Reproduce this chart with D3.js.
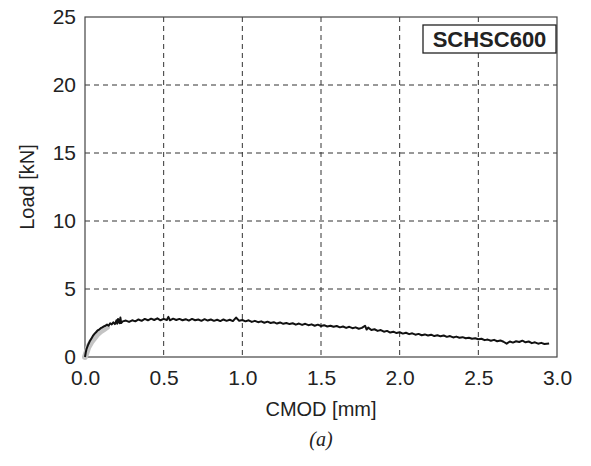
<!DOCTYPE html>
<html><head><meta charset="utf-8">
<script src="https://cdn.jsdelivr.net/npm/d3@7"></script>
<style>body{margin:0;background:#fff}</style>
</head><body>
<svg id="c" width="591" height="466"></svg>
<script>
const xTicks = [0,0.5,1.0,1.5,2.0,2.5,3.0];
const yTicks = [0,5,10,15,20,25];
const legendLabel = "SCHSC600";
const cmod = [0.000,0.005,0.010,0.020,0.030,0.040,0.050,0.060,0.070,0.080,0.090,0.100,0.110,0.120,0.130,0.140,0.150,0.160,0.170,0.180,0.190,0.200,0.205,0.210,0.220,0.225,0.230,0.240,
0.26,0.28,0.30,0.32,0.34,0.36,0.38,0.40,0.42,0.44,0.46,0.48,0.50,0.52,0.53,0.54,0.56,0.58,0.60,0.62,0.64,0.66,0.68,0.70,0.72,0.74,0.76,0.78,0.80,0.82,0.84,0.86,0.88,0.90,0.92,0.94,0.96,0.98,1.00,
1.02,1.04,1.06,1.08,1.10,1.12,1.14,1.16,1.18,1.20,1.22,1.24,1.26,1.28,1.30,1.32,1.34,1.36,1.38,1.40,1.42,1.44,1.46,1.48,1.50,1.52,1.54,1.56,1.58,1.60,1.62,1.64,1.66,1.68,1.70,1.72,1.74,1.76,1.78,1.79,1.80,1.82,1.84,1.86,1.88,1.90,1.92,1.94,1.96,1.98,2.00,
2.02,2.04,2.06,2.08,2.10,2.12,2.14,2.16,2.18,2.20,2.22,2.24,2.26,2.28,2.30,2.32,2.34,2.36,2.38,2.40,2.42,2.44,2.46,2.48,2.50,2.52,2.54,2.56,2.58,2.60,2.62,2.64,2.66,2.68,2.70,2.72,2.74,2.76,2.78,2.80,2.82,2.84,2.86,2.88,2.90,2.92,2.95];
const load = [0.00,0.35,0.60,0.90,1.15,1.35,1.55,1.70,1.82,1.95,2.02,2.12,2.18,2.25,2.30,2.38,2.30,2.48,2.40,2.55,2.42,2.70,2.45,2.80,2.48,2.90,2.50,2.62,
2.68,2.58,2.70,2.62,2.76,2.66,2.80,2.70,2.82,2.72,2.84,2.70,2.80,2.72,2.95,2.70,2.82,2.72,2.80,2.70,2.78,2.68,2.80,2.70,2.76,2.66,2.78,2.68,2.76,2.66,2.74,2.64,2.76,2.66,2.74,2.64,2.90,2.66,2.72,
2.62,2.70,2.58,2.66,2.56,2.62,2.52,2.60,2.50,2.56,2.46,2.54,2.44,2.50,2.42,2.48,2.38,2.46,2.36,2.44,2.34,2.40,2.30,2.38,2.28,2.34,2.24,2.30,2.22,2.28,2.18,2.24,2.14,2.22,2.12,2.18,2.08,2.14,2.30,2.02,2.16,1.98,2.04,1.92,1.98,1.86,1.92,1.80,1.86,1.76,1.82,
1.72,1.78,1.68,1.74,1.64,1.70,1.60,1.66,1.58,1.64,1.54,1.60,1.52,1.58,1.48,1.54,1.44,1.50,1.42,1.46,1.38,1.42,1.34,1.38,1.30,1.34,1.24,1.28,1.20,1.26,1.16,1.22,1.12,0.98,1.14,1.06,1.16,1.10,1.20,1.08,1.14,1.02,1.08,0.98,1.04,0.96,1.00];
const cmod2 = [0.000,0.020,0.040,0.060,0.080,0.100,0.120,0.140];
const load2 = [0.00,0.70,1.10,1.40,1.70,1.90,2.05,2.20];

const svg = d3.select("#c");
const m = {l:85, t:17, w:472, h:340};
const x = d3.scaleLinear().domain([0,3]).range([m.l, m.l+m.w]);
const y = d3.scaleLinear().domain([0,25]).range([m.t+m.h, m.t]);
const FONT = "Liberation Sans, Arial, sans-serif";
const g = svg.append("g");
g.selectAll(".gx").data(xTicks.slice(1,-1)).join("line")
 .attr("x1",d=>x(d)).attr("x2",d=>x(d)).attr("y1",m.t).attr("y2",m.t+m.h)
 .attr("stroke","#333").attr("stroke-width",1).attr("stroke-dasharray","5,4");
g.selectAll(".gy").data(yTicks.slice(1,-1)).join("line")
 .attr("y1",d=>y(d)).attr("y2",d=>y(d)).attr("x1",m.l).attr("x2",m.l+m.w)
 .attr("stroke","#333").attr("stroke-width",1).attr("stroke-dasharray","5,4");
g.append("rect").attr("x",m.l).attr("y",m.t).attr("width",m.w).attr("height",m.h)
 .attr("fill","none").attr("stroke","#444").attr("stroke-width",1.2);
const xa = svg.append("g").attr("transform",`translate(0,${m.t+m.h})`)
 .call(d3.axisBottom(x).tickValues(xTicks).tickFormat(d3.format(".1f")).tickSize(0).tickPadding(13));
const ya = svg.append("g").attr("transform",`translate(${m.l},0)`)
 .call(d3.axisLeft(y).tickValues(yTicks).tickFormat(d3.format("d")).tickSize(0).tickPadding(9));
[xa,ya].forEach(a=>{a.select(".domain").remove();
 a.selectAll("text").style("font-family",FONT).style("font-size","21px").attr("fill","#222");});
const line = d3.line().x(d=>x(d[0])).y(d=>y(d[1]));
svg.append("path").datum(cmod2.map((c,i)=>[c,load2[i]])).attr("d",line)
 .attr("fill","none").attr("stroke","#c4c4c4").attr("stroke-width",6).attr("stroke-linecap","round");
svg.append("path").datum(cmod.map((c,i)=>[c,load[i]])).attr("d",line)
 .attr("fill","none").attr("stroke","#111").attr("stroke-width",2).attr("stroke-linejoin","round");
svg.append("rect").attr("x",423).attr("y",25).attr("width",133).attr("height",28)
 .attr("fill","#fff").attr("stroke","#222").attr("stroke-width",1.3);
svg.append("text").attr("x",489.5).attr("y",47).attr("text-anchor","middle")
 .style("font-family",FONT).style("font-weight","bold").style("font-size","22px").attr("fill","#222").text(legendLabel);
svg.append("text").attr("x",x(1.5)).attr("y",416).attr("text-anchor","middle")
 .style("font-family",FONT).style("font-size","20px").attr("fill","#222").text("CMOD [mm]");
svg.append("text").attr("transform",`translate(34,${y(12.5)}) rotate(-90)`).attr("text-anchor","middle")
 .style("font-family",FONT).style("font-size","20px").attr("fill","#222").text("Load [kN]");
svg.append("text").attr("x",x(1.5)).attr("y",446).attr("text-anchor","middle")
 .style("font-family","Liberation Serif, Times New Roman, serif").style("font-style","italic").style("font-size","20px").attr("fill","#222").text("(a)");
</script>
</body></html>
